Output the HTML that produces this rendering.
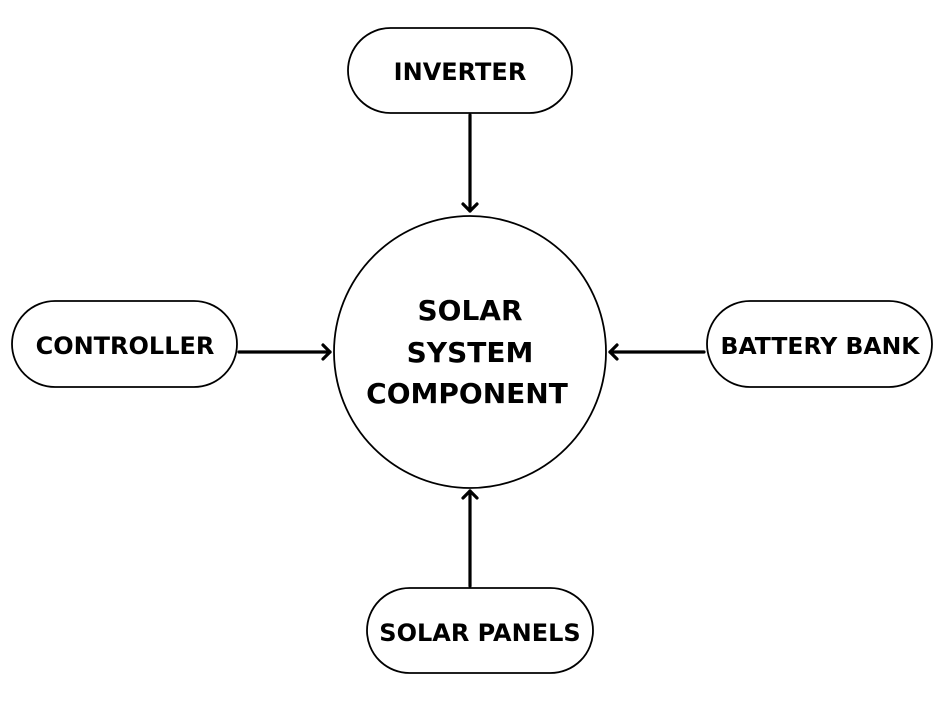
<!DOCTYPE html>
<html><head><style>
body{margin:0;background:#fff;}
svg text{font-family:"DejaVu Sans","Liberation Sans",sans-serif;font-weight:bold;fill:#000;}
</style></head><body>
<svg width="950" height="713" viewBox="0 0 950 713" xmlns="http://www.w3.org/2000/svg">
<rect width="950" height="713" fill="#fff"/>
<g fill="#fff" stroke="#000" stroke-width="1.8">
<circle cx="470" cy="352" r="136"/>
<rect x="348" y="28" width="224" height="85" rx="42.5"/>
<rect x="12" y="301" width="225" height="86" rx="43"/>
<rect x="707" y="301" width="225" height="86" rx="43"/>
<rect x="367" y="588" width="226" height="85" rx="42.5"/>
</g>
<g stroke="#000" stroke-width="3.2" fill="none" stroke-linecap="round" stroke-linejoin="round">
<line x1="470" y1="115" x2="470" y2="211"/><polyline points="463,204 470,211 477,204"/>
<line x1="239" y1="352" x2="330" y2="352"/><polyline points="323,345 330,352 323,359"/>
<line x1="704" y1="352" x2="610" y2="352"/><polyline points="617,345 610,352 617,359"/>
<line x1="470" y1="586" x2="470" y2="491"/><polyline points="463,498 470,491 477,498"/>
</g>
<g text-anchor="middle">
<text x="460" y="80" font-size="24">INVERTER</text>
<text x="125" y="354" font-size="24">CONTROLLER</text>
<text x="820" y="354" font-size="23.5">BATTERY BANK</text>
<text x="480" y="641" font-size="24">SOLAR PANELS</text>
<text x="470" y="320" font-size="28">SOLAR</text>
<text x="470" y="362" font-size="28">SYSTEM</text>
<text x="467" y="403" font-size="28">COMPONENT</text>
</g>
</svg>
</body></html>
